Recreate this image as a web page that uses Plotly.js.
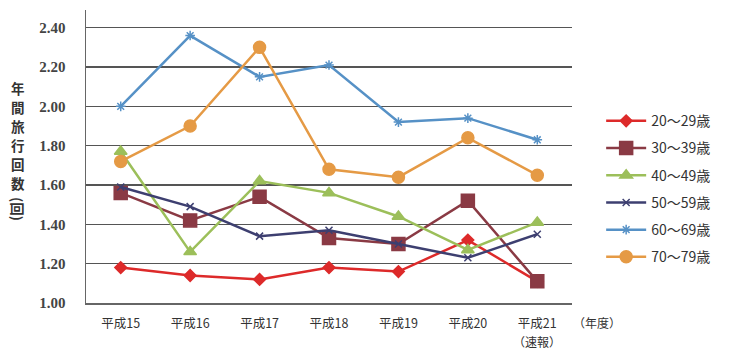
<!DOCTYPE html>
<html><head><meta charset="utf-8">
<script src="https://cdn.plot.ly/plotly-3.0.1.min.js"></script>
<style>html,body{margin:0;padding:0;background:#fff}#c{width:729px;height:349px}</style>
</head><body><div id="c"></div>
<script>
const categories = ["平成15","平成16","平成17","平成18","平成19","平成20","平成21"];
const tickLabels = ["平成15","平成16","平成17","平成18","平成19","平成20","平成21"];
const seriesNames = ["20～29歳","30～39歳","40～49歳","50～59歳","60～69歳","70～79歳"];
const age20s = [1.18, 1.14, 1.12, 1.18, 1.16, 1.32, 1.11];
const age30s = [1.56, 1.42, 1.54, 1.33, 1.30, 1.52, 1.11];
const age40s = [1.77, 1.26, 1.62, 1.56, 1.44, 1.27, 1.41];
const age50s = [1.59, 1.49, 1.34, 1.37, 1.30, 1.23, 1.35];
const age60s = [2.00, 2.36, 2.15, 2.21, 1.92, 1.94, 1.83];
const age70s = [1.72, 1.90, 2.30, 1.68, 1.64, 1.84, 1.65];
const yTicks = [1.00, 1.20, 1.40, 1.60, 1.80, 2.00, 2.20, 2.40];
const yTitleChars = ["年","間","旅","行","回","数"];

const values = [age20s, age30s, age40s, age50s, age60s, age70s];
const styles = [
  {color:"#dd2a2a", symbol:"diamond", size:9},
  {color:"#8a3a44", symbol:"square", size:13},
  {color:"#9cbf5a", symbol:"triangle-up", size:11},
  {color:"#3d3f70", symbol:"x-thin-open", size:7},
  {color:"#5691c6", symbol:"asterisk-open", size:8},
  {color:"#e59a45", symbol:"circle", size:12}
];
const traces = values.map((v,i)=>({
  x: categories, y: v, name: seriesNames[i], type:"scatter", mode:"lines+markers",
  legendgroup: "g"+i,
  line:{color:styles[i].color, width:2.5},
  marker:{color:styles[i].color, symbol:styles[i].symbol, size:styles[i].size,
          line:{color:styles[i].color, width:1.5}}
}));

const titleFont = {family:"Noto Sans CJK JP", size:13.5, color:"#333", weight:"bold"};
const smallFont = {family:"Noto Sans CJK JP", size:12, color:"#333"};
const annotations = yTitleChars.map((ch,i)=>({
  xref:"paper", yref:"paper", x:-0.14, y:(303-(88+i*19))/293, xanchor:"center", yanchor:"middle",
  text:ch, showarrow:false, font:titleFont, borderpad:0
}));
annotations.push({xref:"paper", yref:"paper", x:-0.14, y:(303-209)/293, xanchor:"center", yanchor:"middle",
  text:"(回)", textangle:90, showarrow:false, font:titleFont, borderpad:0});
annotations.push({xref:"paper", yref:"paper", x:1.0, y:(303-322)/293, xanchor:"left", yanchor:"middle",
  text:"（年度）", showarrow:false, font:smallFont, borderpad:0});
annotations.push({xref:"x", yref:"paper", x:categories[6], y:(303-341)/293, xanchor:"center", yanchor:"middle",
  text:"（速報）", showarrow:false, font:smallFont, borderpad:0});

const layout = {
  width:729, height:349,
  margin:{l:86, r:157, t:10, b:46},
  paper_bgcolor:"#fff", plot_bgcolor:"#fff",
  showlegend:true,
  legend:{x:1.06, y:0.675, xanchor:"left", yanchor:"top", tracegroupgap:6, itemwidth:40,
          font:{family:"Noto Sans CJK JP", size:14, color:"#333"}, bgcolor:"rgba(0,0,0,0)"},
  xaxis:{type:"category", tickvals:categories, ticktext:tickLabels, showgrid:false,
         showline:true, linecolor:"#666", linewidth:1.5, ticks:"", ticklabelstandoff:8,
         tickfont:{family:"Noto Sans CJK JP", size:12.5, color:"#333"}, range:[-0.5,6.5]},
  yaxis:{range:[1.0, 2.49], tickvals:yTicks, ticktext:yTicks.map(v=>v.toFixed(2)),
         showgrid:true, gridcolor:"#555", gridwidth:1.5, zeroline:false,
         showline:true, linecolor:"#666", linewidth:1.5, ticks:"", ticklabelstandoff:16,
         tickfont:{family:"Liberation Serif", size:15, color:"#444", weight:"bold"}},
  annotations: annotations
};
Plotly.newPlot("c", traces, layout, {displayModeBar:false, staticPlot:true});
</script></body></html>
